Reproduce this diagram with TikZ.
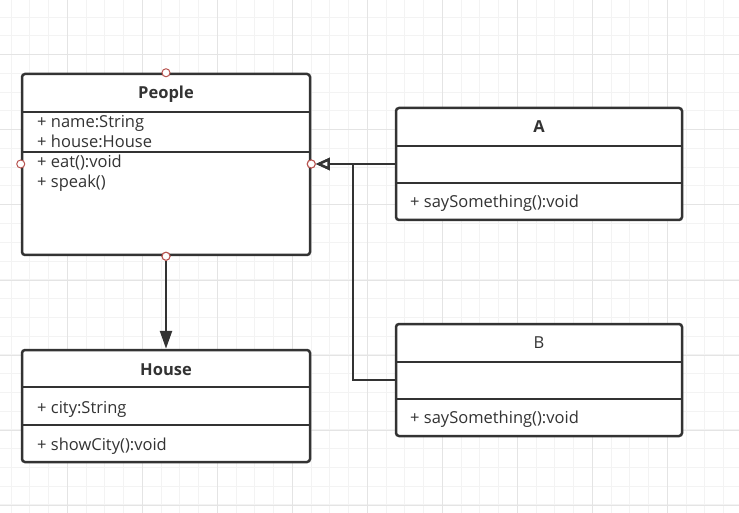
\documentclass[tikz,border=0pt]{standalone}
\usepackage{fontspec}
\setmainfont{Open Sans}
\usetikzlibrary{arrows.meta}

\definecolor{linie}{HTML}{333333}
\definecolor{raster}{HTML}{F3F3F3}
\definecolor{rasterfett}{HTML}{E4E4E4}
\definecolor{port}{HTML}{B85450}
\newcommand{\schrift}{\fontsize{16.5}{20}\selectfont}

\tikzset{
  klasse/.style={draw=linie, line width=2.5pt, fill=white, rounded corners=3pt, inner sep=0pt},
  trenn/.style={draw=linie, line width=2.5pt},
  titel/.style={font=\schrift\bfseries, text=linie, inner sep=0pt, anchor=base},
  eintrag/.style={font=\schrift, text=linie, inner sep=0pt, anchor=base west},
  anschluss/.style={circle, draw=port, fill=white, line width=1pt, minimum size=8pt, inner sep=0pt},
  assoz/.style={draw=linie, line width=2.5pt, -{Triangle[length=18pt, width=12pt]}},
  erbt/.style={draw=linie, line width=2.5pt, -{Triangle[open, length=14pt, width=12pt, fill=white]}}
}

\begin{document}
\begin{tikzpicture}[x=1pt, y=-1pt]
\useasboundingbox (0,0) rectangle (739,513);
% Raster
\foreach \i in {0,...,38} \draw[raster, line width=1pt] (11.05+18.75*\i,0) -- (11.05+18.75*\i,513);
\foreach \j in {1,...,27} \draw[raster, line width=1pt] (0,-1.5+18.75*\j) -- (739,-1.5+18.75*\j);
\foreach \i in {0,...,8} \draw[rasterfett, line width=1pt] (67.3+75*\i,0) -- (67.3+75*\i,513);
\foreach \j in {0,...,6} \draw[rasterfett, line width=1pt] (0,55+75*\j) -- (739,55+75*\j);

% Klassen
\node[klasse, minimum width=288pt, minimum height=181pt] (people) at (166,164.5) {};
\node[klasse, minimum width=286pt, minimum height=112pt] (a)      at (539,164)   {};
\node[klasse, minimum width=286pt, minimum height=112pt] (b)      at (539,380)   {};
\node[klasse, minimum width=288pt, minimum height=112pt] (house)  at (166,406)   {};

% Trennlinien
\draw[trenn] (people.west |- 0,112) -- (people.east |- 0,112);
\draw[trenn] (people.west |- 0,152) -- (people.east |- 0,152);
\draw[trenn] (a.west |- 0,146) -- (a.east |- 0,146);
\draw[trenn] (a.west |- 0,183) -- (a.east |- 0,183);
\draw[trenn] (b.west |- 0,362) -- (b.east |- 0,362);
\draw[trenn] (b.west |- 0,399) -- (b.east |- 0,399);
\draw[trenn] (house.west |- 0,387) -- (house.east |- 0,387);
\draw[trenn] (house.west |- 0,425) -- (house.east |- 0,425);

% Texte
\node[titel] (peopleT) at (166,99) {People};
\node[eintrag] (p1) at (37,128) {+ name:String};
\node[eintrag] (p2) at (37,148) {+ house:House};
\node[eintrag] (p3) at (37,168) {+ eat():void};
\node[eintrag] (p4) at (37,188) {+ speak()};

\node[titel] (aT) at (539,133) {A};
\node[eintrag] (a1) at (410,208) {+ saySomething():void};

\node[titel, font=\schrift] (bT) at (539,348) {B};
\node[eintrag] (b1) at (410,423) {+ saySomething():void};

\node[titel] (houseT) at (166,375) {House};
\node[eintrag] (h1) at (37,413) {+ city:String};
\node[eintrag] (h2) at (37,450) {+ showCity():void};

% Anschlusspunkte
\node[anschluss] (peopleO) at (people.north) {};
\node[anschluss] (peopleW) at (people.west |- 0,164) {};
\node[anschluss] (peopleE) at (people.east |- 0,164) {};
\node[anschluss] (peopleS) at (people.south) {};
\coordinate (knick) at (353,380);

% Pfeile
\draw[assoz] (peopleS) -- (house.north);
\draw[erbt] (a.west) -- (peopleE.east);
\draw[erbt] (b.west) -- (knick) |- (peopleE.east);
\node[anschluss] at (peopleS) {};
\node[anschluss] at (peopleE) {};

\end{tikzpicture}
\end{document}
